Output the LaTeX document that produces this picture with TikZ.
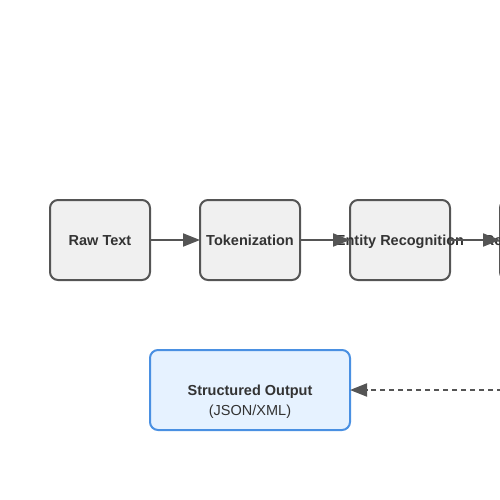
\documentclass[tikz,border=0pt]{standalone}
\usepackage{fontspec}
\setmainfont{Liberation Sans}
\usetikzlibrary{arrows.meta}
\definecolor{boxfill}{HTML}{F0F0F0}
\definecolor{boxline}{HTML}{555555}
\definecolor{txt}{HTML}{333333}
\definecolor{outfill}{HTML}{E6F2FF}
\definecolor{outline}{HTML}{4A90E2}
\newcommand{\boxtext}[1]{\makebox[0pt]{\smash{\raisebox{-5pt}{#1}}}}
\begin{document}
\begin{tikzpicture}[x=1pt,y=-1pt,
  stepbox/.style={draw=boxline,fill=boxfill,line width=2pt,rounded corners=8pt,
    minimum width=100pt,minimum height=80pt,inner sep=0pt,
    font=\fontsize{14.5pt}{17pt}\selectfont\bfseries,text=txt},
  outbox/.style={draw=outline,fill=outfill,line width=2pt,rounded corners=8pt,
    minimum width=200pt,minimum height=80pt,inner sep=0pt,text=txt,align=center},
  lbl/.style={text=txt,inner sep=0pt,anchor=base},
  flow/.style={draw=boxline,line width=2pt,shorten >=-1pt,-{Triangle[length=17pt,width=13pt]}},
  back/.style={flow,dash pattern=on 5pt off 4pt}]
\useasboundingbox (0,0) rectangle (500,500);
\clip (0,0) rectangle (500,500);
\node[stepbox] (raw) at (100,240) {\boxtext{Raw Text}};
\node[stepbox] (tok) at (250,240) {\boxtext{Tokenization}};
\node[stepbox] (ent) at (400,240) {\boxtext{Entity Recognition}};
\node[stepbox] (rel) at (550,240) {\boxtext{Relation Extraction}};
\node[outbox] (out) at (250,390) {};
\node[lbl,font=\fontsize{14.5pt}{17pt}\selectfont\bfseries] (outt) at (250,395) {Structured Output};
\node[lbl,font=\fontsize{14.5pt}{17pt}\selectfont] (outs) at (250,415) {(JSON/XML)};
\coordinate (src) at (520,390);
\draw[flow] (raw.east) -- (tok.west);
\draw[flow] (tok.east) -- (ent.west);
\draw[flow] (ent.east) -- (rel.west);
\draw[back] (src) -- (out.east);
\end{tikzpicture}
\end{document}
